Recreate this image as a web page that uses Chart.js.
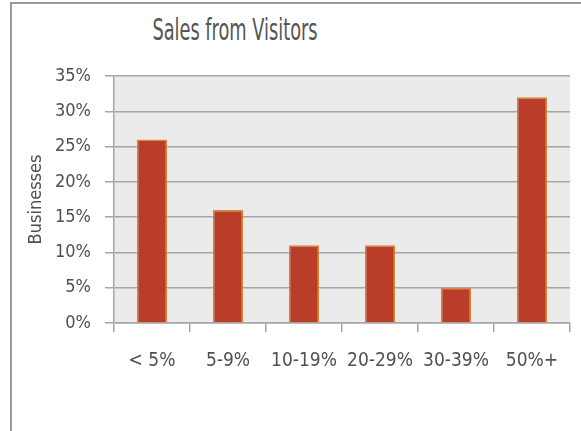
<!DOCTYPE html>
<html>
<head>
<meta charset="utf-8">
<script src="https://cdn.jsdelivr.net/npm/chart.js@4.4.0/dist/chart.umd.min.js"></script>
<style>
  html, body { margin: 0; padding: 0; background: #fff; }
  #wrap { position: relative; width: 581px; height: 431px; }
  #frame { position: absolute; left: 10px; top: 2px; right: 0; bottom: 0;
           border-left: 2px solid #9a9a9a; border-top: 2px solid #9a9a9a; }
  #title { position: absolute; left: 0; width: 470px; top: 15px; text-align: center;
           font-family: "DejaVu Sans Condensed", sans-serif;
           font-size: 26px; color: #555; transform: scale(0.76, 1.15); }
  canvas { position: absolute; left: 0; top: 0; }
</style>
</head>
<body>
<div id="wrap">
  <div id="frame"></div>
  <div id="title">Sales from Visitors</div>
  <canvas id="myChart" width="581" height="431"></canvas>
</div>
<script>
const categories = ['< 5%', '5-9%', '10-19%', '20-29%', '30-39%', '50%+']
const businesses = [26, 16, 11, 11, 5, 32]
const yTicks = [0, 5, 10, 15, 20, 25, 30, 35]

const fontFamily = '"DejaVu Sans Condensed", sans-serif'

// grey plot background
const plotBg = {
  id: 'plotBg',
  beforeDraw(chart) {
    const { ctx, chartArea } = chart
    ctx.save()
    ctx.fillStyle = '#ebebeb'
    ctx.fillRect(chartArea.left, chartArea.top, chartArea.right - chartArea.left, chartArea.bottom - chartArea.top)
    ctx.restore()
  }
}

const ctx = document.getElementById('myChart')
const myChart = new Chart(ctx, {
  type: 'bar',
  data: {
    labels: categories,
    datasets: [{
      label: 'Businesses',
      data: businesses,
      backgroundColor: '#b93d28',
      borderColor: '#d68a33',
      borderWidth: 1.5,
      barPercentage: 0.4,
      categoryPercentage: 1
    }]
  },
  options: {
    responsive: false,
    animation: false,
    layout: { padding: { left: 10, right: 11, top: 76, bottom: 0 } },
    plugins: {
      legend: { display: false },
      tooltip: { enabled: false }
    },
    scales: {
      x: {
        offset: true,
        grid: {
          offset: true,
          drawOnChartArea: false,
          drawTicks: true,
          tickLength: 9,
          color: '#a6a6a6',
          lineWidth: 1.5
        },
        border: { color: '#a6a6a6', width: 1.5 },
        ticks: {
          color: '#505050',
          padding: 18,
          autoSkip: false,
          font: { family: fontFamily, size: 19 },
          maxRotation: 0
        },
        afterFit(scale) { scale.height = 108 }
      },
      y: {
        min: 0,
        max: 35,
        afterBuildTicks(scale) { scale.ticks = yTicks.map(v => ({ value: v })) },
        grid: {
          color: '#a6a6a6',
          lineWidth: 1.5,
          tickLength: 9
        },
        border: { color: '#a6a6a6', width: 1.5 },
        ticks: {
          color: '#505050',
          padding: 14,
          font: { family: fontFamily, size: 18 },
          callback: v => v + '%'
        },
        title: {
          display: true,
          text: 'Businesses',
          color: '#505050',
          font: { family: fontFamily, size: 18 },
          padding: { top: 16, bottom: 0 }
        },
        afterFit(scale) { scale.width = 104 }
      }
    }
  },
  plugins: [plotBg]
})
</script>
</body>
</html>
